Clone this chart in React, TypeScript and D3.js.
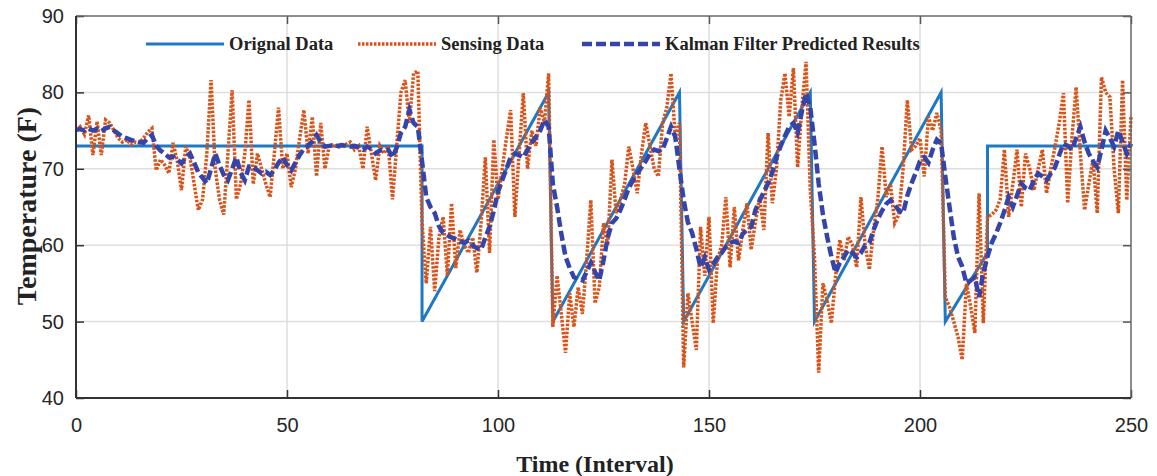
import React, { useRef, useEffect } from "react";
import * as d3 from "d3";

// original signal breakpoints (time, value)
const origTime = [0, 82, 82, 112, 113, 143, 144, 174, 175, 205, 206, 216, 216, 250];
const origValue = [73, 73, 50, 80, 50, 80, 50, 80, 50, 80, 50, 59, 73, 73];

// sensing data, one value per interval 0..250
const sensing = [
  75, 75.5, 74.5, 77, 71.8, 76.2, 71.8, 76.4, 76, 75, 74, 73.5, 73.8, 73.2, 73.5, 73.4, 74, 74.8, 75.3, 69.8,
  71.2, 70.5, 69.4, 73.4, 71, 67.2, 72.9, 71.5, 68, 64.6, 66, 72, 81.6, 70, 66, 64, 72, 80.3, 66, 68,
  72, 79, 68, 72, 70, 68, 66.3, 72, 78, 70, 72, 67.6, 70, 74, 77.7, 72, 76.8, 69, 76, 70,
  73, 73.2, 72.8, 73, 73.2, 73.5, 72.5, 73, 70, 75.5, 72, 68.5, 73, 72, 73, 66, 73, 80, 81.6, 76,
  82.5, 82.8, 63, 55, 62.4, 54, 61, 63.7, 56, 65.5, 57, 62, 60, 59, 61, 56.4, 63, 71.5, 59, 73.8,
  66, 70, 74, 77.7, 63.7, 72, 79.9, 70, 75, 73, 78, 76, 82.5, 49.3, 56, 51, 45.9, 53.7, 49.3, 54.5,
  51, 58, 65.9, 52.4, 54.5, 62.9, 60, 71.2, 64.2, 65.9, 68, 72.9, 70, 66.8, 72, 76, 73, 70, 69, 76,
  78, 82.5, 74.2, 76, 44, 53.7, 50, 46.3, 62.4, 56, 63.7, 49.8, 58, 60, 66.3, 57.1, 65, 58, 62, 65.5,
  59.4, 63, 66.3, 62, 74.7, 65.5, 70, 79, 82.5, 76.8, 83.2, 70.2, 78, 84, 67.2, 58.4, 43.3, 55, 52.8, 49.8,
  56, 60.7, 58, 61.1, 60, 57.1, 66.3, 60, 56.8, 62, 66, 72.9, 66.3, 68, 62.9, 64, 70, 79, 72.5, 73,
  74, 69, 76.8, 75, 77.3, 75, 53.2, 51.9, 50, 48, 45, 55, 52, 48.5, 66.8, 49.8, 63.7, 64, 64.6, 66,
  72.5, 63.7, 68, 72.5, 65, 72, 70, 67.2, 70, 72.5, 66.8, 70, 72.9, 76, 79.9, 65.5, 74, 80.7, 72, 64.6,
  68, 71.2, 64.2, 82, 80, 79.4, 70, 64.2, 81.6, 65.9, 76.8,
];

// kalman filter output, one value per interval 0..250
const kalman = [
  75.1, 75.2, 75, 75.3, 75, 75.2, 74.9, 75.3, 75.5, 75, 74.6, 74.2, 74, 73.8, 73.6, 73.5, 73.4, 74, 74.4, 73,
  72.4, 72, 71.5, 71.6, 71.2, 70.7, 71.5, 72, 70.8, 69.5, 68.8, 68.1, 70, 72, 70.5, 69.2, 68.5, 70, 71.5, 69.5,
  68.5, 70.3, 70.3, 69.8, 69.4, 69.6, 69.2, 69.8, 70.8, 71.5, 70.5, 69.8, 70.8, 71.8, 72.6, 73, 73.6, 74.4, 73.5, 72.9,
  73, 73.1, 73, 73.1, 73, 72.9, 73, 72.8, 72.5, 72.9, 72.6, 72, 72.4, 72.5, 72.5, 71.5, 72.8, 74.7, 75.5, 77.7,
  76, 75.5, 71, 66.3, 65, 64.2, 62.5, 61.6, 61.3, 61, 60.8, 60.5, 60.3, 60.6, 60, 59.6, 59.4, 61, 62.4, 64.5,
  67, 68.5, 70, 71.5, 72, 71.8, 71.5, 72.5, 73.4, 74.2, 75, 76.4, 75.5, 68, 65, 61.5, 58.5, 57, 55.8, 55.6,
  55.4, 56.5, 57.7, 56.5, 55.4, 58, 61, 62.9, 63.5, 64.6, 66, 67.5, 68.5, 69.4, 70.2, 71, 72, 72.5, 72.3, 72.5,
  74, 75.5, 74.2, 70, 65.9, 63, 61.6, 59.5, 57.1, 58.4, 56.8, 57.5, 58.4, 59, 59.8, 60.3, 60.5, 60.3, 61.5, 62,
  62.4, 64.6, 65.8, 67, 68.1, 69.5, 71.5, 73, 74.3, 75.5, 76, 74.7, 77.5, 79.9, 78, 73.3, 68, 64, 61.1, 58.5,
  56.4, 57.7, 58.5, 59.4, 59, 58.4, 59, 60, 60.3, 62, 63.4, 64.5, 65.4, 65.9, 65.3, 64.5, 64.2, 66.5, 68.1, 69.5,
  71, 71.5, 70.8, 72.5, 73.8, 73.3, 69, 65, 61.1, 58.5, 57.2, 55, 55.4, 55.8, 53.2, 56.4, 58.5, 60.3, 61.5, 62.9,
  64.5, 66.3, 65, 66.5, 68.1, 67.5, 67.2, 68.5, 69.4, 69, 68.5, 69.4, 70.2, 71.8, 73.3, 73, 72.5, 74, 75.5, 73.5,
  72, 71, 70.2, 72.5, 75, 74, 72.9, 75, 73.5, 72, 73.3,
];

const xTicks = [0, 50, 100, 150, 200, 250];
const yTicks = [40, 50, 60, 70, 80, 90];

const legendItems = [
  { label: "Orignal Data", key: "orig" },
  { label: "Sensing Data", key: "sense" },
  { label: "Kalman Filter Predicted Results", key: "kalman" },
];

const styles = {
  orig: { color: "#1f78c1", width: 3, dash: null },
  sense: { color: "#d95319", width: 3.5, dash: "2.5 1.5" },
  kalman: { color: "#3444a8", width: 4.5, dash: "10 4" },
};

const App = () => {
  const svgRef = useRef();

  useEffect(() => {
    const svg = d3.select(svgRef.current);
    svg.selectAll("*").remove();

    const width = 1157;
    const height = 476;
    const margin = { top: 16, right: 26, bottom: 78, left: 76 };
    const innerWidth = width - margin.left - margin.right;
    const innerHeight = height - margin.top - margin.bottom;

    const x = d3.scaleLinear().domain([0, 250]).range([0, innerWidth]);
    const y = d3.scaleLinear().domain([40, 90]).range([innerHeight, 0]);

    const g = svg
      .append("g")
      .attr("transform", `translate(${margin.left}, ${margin.top})`);

    // grid
    g.selectAll(".vgrid")
      .data(xTicks.slice(1, -1))
      .enter()
      .append("line")
      .attr("x1", (d) => x(d))
      .attr("x2", (d) => x(d))
      .attr("y1", 0)
      .attr("y2", innerHeight)
      .attr("stroke", "#dedede")
      .attr("stroke-width", 1.5);

    g.selectAll(".hgrid")
      .data(yTicks.slice(1, -1))
      .enter()
      .append("line")
      .attr("x1", 0)
      .attr("x2", innerWidth)
      .attr("y1", (d) => y(d))
      .attr("y2", (d) => y(d))
      .attr("stroke", "#dedede")
      .attr("stroke-width", 1.5);

    // series
    const origData = origTime.map((t, i) => ({ t, v: origValue[i] }));
    const senseData = sensing.map((v, t) => ({ t, v }));
    const kalmanData = kalman.map((v, t) => ({ t, v }));

    const line = d3
      .line()
      .x((d) => x(d.t))
      .y((d) => y(d.v));

    const drawSeries = (data, st) => {
      const p = g
        .append("path")
        .datum(data)
        .attr("d", line)
        .attr("fill", "none")
        .attr("stroke", st.color)
        .attr("stroke-width", st.width)
        .attr("stroke-linejoin", "miter");
      if (st.dash) p.attr("stroke-dasharray", st.dash);
    };

    drawSeries(origData, styles.orig);
    drawSeries(senseData, styles.sense);
    drawSeries(kalmanData, styles.kalman);

    // axes
    const tickFont = "'Liberation Sans', Arial, sans-serif";
    const styleAxis = (sel, color) => {
      sel.select(".domain").remove();
      sel.selectAll(".tick line").attr("stroke", color).attr("stroke-width", 1.5);
      sel
        .selectAll(".tick text")
        .attr("fill", "#262626")
        .style("font-family", tickFont)
        .style("font-size", "20px");
    };

    const bottom = g
      .append("g")
      .attr("transform", `translate(0, ${innerHeight})`)
      .call(d3.axisBottom(x).tickValues(xTicks).tickSizeInner(-8).tickPadding(20));
    styleAxis(bottom, "#333");

    const left = g
      .append("g")
      .call(d3.axisLeft(y).tickValues(yTicks).tickSizeInner(-8).tickPadding(12));
    styleAxis(left, "#333");

    const top = g
      .append("g")
      .call(d3.axisTop(x).tickValues(xTicks).tickSizeInner(-8).tickFormat(() => ""));
    styleAxis(top, "#555");

    const right = g
      .append("g")
      .attr("transform", `translate(${innerWidth}, 0)`)
      .call(d3.axisRight(y).tickValues(yTicks).tickSizeInner(-8).tickFormat(() => ""));
    styleAxis(right, "#555");

    // box
    g.append("line").attr("x1", 0).attr("x2", innerWidth).attr("y1", 0).attr("y2", 0)
      .attr("stroke", "#666").attr("stroke-width", 1.5);
    g.append("line").attr("x1", innerWidth).attr("x2", innerWidth).attr("y1", 0).attr("y2", innerHeight)
      .attr("stroke", "#666").attr("stroke-width", 1.5);
    g.append("line").attr("x1", 0).attr("x2", innerWidth).attr("y1", innerHeight).attr("y2", innerHeight)
      .attr("stroke", "#333").attr("stroke-width", 2);
    g.append("line").attr("x1", 0).attr("x2", 0).attr("y1", 0).attr("y2", innerHeight)
      .attr("stroke", "#333").attr("stroke-width", 2);

    // axis titles
    const serif = "'Liberation Serif', 'Times New Roman', serif";
    svg
      .append("text")
      .attr("x", 595)
      .attr("y", 472)
      .attr("text-anchor", "middle")
      .style("font-family", serif)
      .style("font-weight", "bold")
      .style("font-size", "24px")
      .attr("fill", "#222")
      .text("Time (Interval)");

    svg
      .append("text")
      .attr("transform", `translate(36, ${margin.top + innerHeight / 2 - 1}) rotate(-90)`)
      .attr("text-anchor", "middle")
      .style("font-family", serif)
      .style("font-weight", "bold")
      .style("font-size", "28px")
      .attr("fill", "#222")
      .text("Temperature (F)");

    // legend
    const legendPos = [146, 358, 582];
    const legendY = 44;
    const legend = svg.append("g");
    legendItems.forEach((item, i) => {
      const st = styles[item.key];
      const lx = legendPos[i];
      const l = legend
        .append("line")
        .attr("x1", lx)
        .attr("x2", lx + 78)
        .attr("y1", legendY)
        .attr("y2", legendY)
        .attr("stroke", st.color)
        .attr("stroke-width", st.width);
      if (st.dash) l.attr("stroke-dasharray", st.dash);
      legend
        .append("text")
        .attr("x", lx + 83)
        .attr("y", legendY + 6)
        .style("font-family", serif)
        .style("font-weight", "bold")
        .style("font-size", "18.5px")
        .attr("fill", "#222")
        .text(item.label);
    });
  }, []);

  return (
    <svg
      ref={svgRef}
      width="1157"
      height="476"
      style={{ position: "absolute", left: 0, top: 0, background: "#fff" }}
    />
  );
};

export default App;
